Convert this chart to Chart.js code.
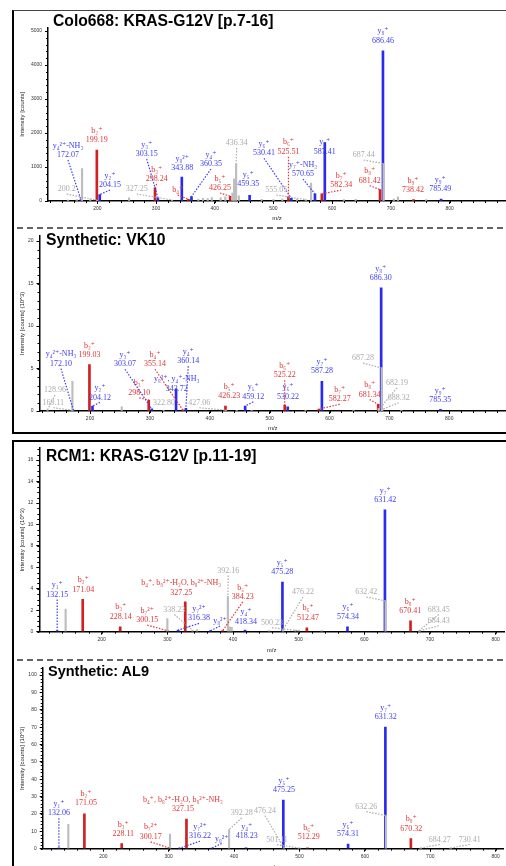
<!DOCTYPE html>
<html>
<head>
<meta charset="utf-8">
<script src="https://cdn.jsdelivr.net/npm/chart.js@4.4.1/dist/chart.umd.min.js"></script>
<style>
body{margin:0;width:506px;height:866px;overflow:hidden;background:#fff;position:relative;font-family:"Liberation Sans",Arial,sans-serif}
canvas,.title,.box,svg{position:absolute}
.title{font-weight:bold;line-height:1;white-space:nowrap;color:#000}
</style>
</head>
<body>
<div class="box" style="left:12px;top:10px;width:520px;height:421px;border-left:2px solid #000;border-top:1px solid #444;border-bottom:2px solid #000"></div>
<div class="box" style="left:12px;top:440px;width:520px;height:500px;border-left:2px solid #000;border-top:2px solid #000"></div>
<svg style="left:0;top:0" width="506" height="866">
  <line x1="17" y1="228" x2="506" y2="228" stroke="#333" stroke-width="1.5" stroke-dasharray="6 4"/>
  <line x1="17" y1="660" x2="506" y2="660" stroke="#333" stroke-width="1.5" stroke-dasharray="6 4"/>
</svg>

<canvas id="c1" width="506" height="214" style="left:0;top:12px"></canvas>
<canvas id="c2" width="506" height="202" style="left:0;top:230px"></canvas>
<canvas id="c3" width="506" height="216" style="left:0;top:442px"></canvas>
<canvas id="c4" width="506" height="213" style="left:0;top:662px"></canvas>

<div class="title" style="left:53px;top:12.7px;font-size:15.7px">Colo668: KRAS-G12V [p.7-16]</div>
<div class="title" style="left:46px;top:231.7px;font-size:15.7px">Synthetic: VK10</div>
<div class="title" style="left:46px;top:448.4px;font-size:15.6px">RCM1: KRAS-G12V [p.11-19]</div>
<div class="title" style="left:48px;top:664.4px;font-size:14.5px">Synthetic: AL9</div>

<script>
// tick labels
const mzTicks = [200, 300, 400, 500, 600, 700, 800];
const coloYTicks = [0, 1000, 2000, 3000, 4000, 5000];
const vkYTicks = [0, 5, 10, 15, 20];
const rcmYTicks = [0, 2, 4, 6, 8, 10, 12, 14, 16];
const alYTicks = [0, 10, 20, 30, 40, 50, 60, 70, 80, 90, 100];

// Colo668 patient sample, KRAS-G12V p.7-16
const coloGrayMz  = [150, 165, 174, 188, 200.2, 254, 327.25, 372, 380, 388, 395, 410, 418, 430, 433, 436.34, 441, 480, 500, 515, 540, 555.05, 564, 620, 640, 687.44, 705, 712, 760];
const coloGrayInt = [30, 40, 950, 40, 20, 90, 30, 60, 80, 70, 100, 90, 120, 230, 650, 1100, 150, 50, 40, 60, 60, 40, 530, 40, 50, 1100, 60, 120, 40];
const coloRedMz   = [199.19, 298.24, 355.2, 426.25, 525.51, 582.34, 681.42, 738.42];
const coloRedInt  = [1500, 390, 50, 140, 120, 210, 335, 40];
const coloBlueMz  = [172.07, 204.15, 303.15, 343.88, 360.35, 459.35, 530.41, 570.65, 587.41, 686.46, 785.49];
const coloBlueInt = [40, 190, 100, 700, 130, 170, 80, 210, 1720, 4420, 60];

// synthetic VK10
const vkGrayMz  = [128.96, 169.11, 170.6, 253, 322.8, 427.06, 445, 470, 560, 640, 682.19, 687.28, 688.32, 720];
const vkGrayInt = [0.15, 0.1, 3.5, 0.5, 0.1, 0.1, 0.08, 0.1, 0.12, 0.1, 0.3, 5.07, 0.2, 0.12];
const vkRedMz   = [199.03, 298.10, 355.14, 426.23, 525.22, 582.27, 681.34];
const vkRedInt  = [5.45, 1.29, 0.1, 0.58, 0.7, 0.23, 0.78];
const vkBlueMz  = [172.10, 204.12, 303.07, 343.72, 360.14, 459.12, 530.22, 587.28, 686.30, 785.35];
const vkBlueInt = [0.1, 0.58, 0.26, 2.57, 0.3, 0.58, 0.5, 3.5, 14.5, 0.2];

// RCM1 patient sample, KRAS-G12V p.11-19
const rcmGrayMz  = [145, 300, 338.23, 345, 392.16, 395, 398, 455, 476.22, 495, 500.23, 535, 632.42, 683.45, 684.43];
const rcmGrayInt = [2.1, 1.23, 0.15, 0.2, 3.3, 0.46, 0.4, 0.1, 0.2, 0.15, 0.15, 0.1, 2.87, 0.1, 0.1];
const rcmRedMz   = [171.04, 228.14, 300.15, 327.25, 384.23, 512.47, 670.41];
const rcmRedInt  = [3.03, 0.46, 0.1, 2.78, 0.1, 0.35, 1.02];
const rcmBlueMz  = [132.15, 316.38, 365.7, 418.34, 475.28, 574.34, 631.42];
const rcmBlueInt = [0.1, 0.15, 0.1, 0.15, 4.63, 0.46, 11.36];

// synthetic AL9
const alGrayMz  = [146.5, 302, 392.28, 476.24, 501.11, 632.26, 684.27, 730.41];
const alGrayInt = [14, 8.4, 11, 0.5, 0.3, 19.1, 0.3, 0.3];
const alRedMz   = [171.05, 228.11, 300.17, 327.15, 512.29, 670.32];
const alRedInt  = [20.1, 3.0, 0.5, 17.1, 0.5, 5.9];
const alBlueMz  = [132.06, 316.22, 365.7, 418.23, 475.25, 574.31, 631.32];
const alBlueInt = [0.5, 0.3, 0.3, 0.5, 28, 2.6, 70.1];

// where each peak label sits (data units) and where its leader ends
const coloNotes = [
  {t:['y₄²⁺-NH₃','172.07'], c:'b', at:[150,1353], to:[172.07,40]},
  {t:['b₂⁺','199.19'], c:'r', at:[199.19,1794]},
  {t:['y₂⁺','204.15'], c:'b', at:[221.6,471], to:[204.15,190]},
  {t:['200.2'], c:'g', at:[147.8,353], to:[200.2,20]},
  {t:['y₃⁺','303.15'], c:'b', at:[284.1,1382], to:[303.15,100]},
  {t:['b₃⁺','298.24'], c:'r', at:[301.1,647], to:[298.24,390]},
  {t:['327.25'], c:'g', at:[267.1,353], to:[327.25,30]},
  {t:['y₈²⁺','343.88'], c:'b', at:[344.7,971]},
  {t:['y₄⁺','360.35'], c:'b', at:[393.6,1088], to:[360.35,130]},
  {t:['b₄⁺'], c:'r', at:[336.9,323], to:[355.2,50]},
  {t:['b₅⁺','426.25'], c:'r', at:[408.9,382], to:[426.25,140]},
  {t:['436.34'], c:'g', at:[437.4,1706], to:[436.34,1100]},
  {t:['y₅⁺','459.35'], c:'b', at:[457.1,491]},
  {t:['y₆⁺','530.41'], c:'b', at:[483.8,1403], to:[530.41,80]},
  {t:['b₆⁺','525.51'], c:'r', at:[525.51,1450], to:[525.51,120]},
  {t:['y₇⁺-NH₃','570.65'], c:'b', at:[550.3,794], to:[570.65,210]},
  {t:['555.05'], c:'g', at:[504.8,323], to:[555.05,40]},
  {t:['y₇⁺','587.41'], c:'b', at:[587.41,1450]},
  {t:['b₇⁺','582.34'], c:'r', at:[615.5,471], to:[582.34,210]},
  {t:['687.44'], c:'g', at:[653.6,1353], to:[687.44,1100]},
  {t:['b₈⁺','681.42'], c:'r', at:[663.9,597], to:[681.42,335]},
  {t:['y₈⁺','686.46'], c:'b', at:[686.46,4714]},
  {t:['b₉⁺','738.42'], c:'r', at:[737.6,323]},
  {t:['y₉⁺','785.49'], c:'b', at:[784.1,344]}
];
const vkNotes = [
  {t:['y₄²⁺-NH₃','172.10'], c:'b', at:[151.5,5.58], to:[172.10,0.1]},
  {t:['b₂⁺','199.03'], c:'r', at:[199.03,6.55]},
  {t:['y₂⁺','204.12'], c:'b', at:[216.6,1.6], to:[204.12,0.58]},
  {t:['128.96'], c:'g', at:[141.5,2.46], to:[128.96,0.15]},
  {t:['169.11'], c:'g', at:[138.6,0.97], to:[169.11,0.1]},
  {t:['y₃⁺','303.07'], c:'b', at:[258.4,5.5], to:[303.07,0.26]},
  {t:['b₃⁺','298.10'], c:'r', at:[282.3,2.14], to:[298.10,1.29]},
  {t:['322.80'], c:'g', at:[323.6,0.97]},
  {t:['b₄⁺','355.14'], c:'r', at:[308.5,5.5], to:[355.14,0.1]},
  {t:['y₄⁺','360.14'], c:'b', at:[364.1,5.85], to:[360.14,0.3]},
  {t:['y₈²⁺, y₄⁺-NH₃','343.72'], c:'b', at:[344.8,2.65]},
  {t:['427.06'], c:'g', at:[382.5,0.97], to:[427.06,0.1]},
  {t:['b₅⁺','426.23'], c:'r', at:[432.6,1.75]},
  {t:['y₅⁺','459.12'], c:'b', at:[472.7,1.67], to:[459.12,0.58]},
  {t:['b₆⁺','525.22'], c:'r', at:[525.22,4.21], to:[525.22,0.7]},
  {t:['y₆⁺','530.22'], c:'b', at:[530.7,1.67]},
  {t:['y₇⁺','587.28'], c:'b', at:[587.5,4.68]},
  {t:['b₇⁺','582.27'], c:'r', at:[617.0,1.37], to:[582.27,0.23]},
  {t:['687.28'], c:'g', at:[656.0,6.23], to:[687.28,5.07]},
  {t:['b₈⁺','681.34'], c:'r', at:[667.1,1.95], to:[681.34,0.78]},
  {t:['682.19'], c:'g', at:[712.7,3.31], to:[684,0.3]},
  {t:['688.32'], c:'g', at:[715.6,1.56], to:[688.32,0.2]},
  {t:['y₈⁺','686.30'], c:'b', at:[685.5,15.64]},
  {t:['y₉⁺','785.35'], c:'b', at:[785.0,1.29]}
];
const rcmNotes = [
  {t:['y₁⁺','132.15'], c:'b', at:[132.15,3.46], to:[132.15,0.1]},
  {t:['b₂⁺','171.04'], c:'r', at:[171.9,3.93]},
  {t:['b₃⁺','228.14'], c:'r', at:[228.9,1.39]},
  {t:['b₇²⁺','300.15'], c:'r', at:[269.4,1.08], to:[300.15,0.1]},
  {t:['338.23'], c:'g', at:[310.6,2.07], to:[338.23,0.15]},
  {t:['b₄⁺, b₈²⁺-H₂O, b₈²⁺-NH₃','327.25'], c:'r', at:[321,3.65]},
  {t:['y₇²⁺','316.38'], c:'b', at:[348.2,1.24], to:[316.38,0.15]},
  {t:['y₈²⁺'], c:'b', at:[380.2,0.99], to:[365.7,0.1]},
  {t:['392.16'], c:'g', at:[392.8,5.71], to:[392.16,3.3]},
  {t:['b₅⁺','384.23'], c:'r', at:[414.8,3.24], to:[384.23,0.1]},
  {t:['y₄⁺','418.34'], c:'b', at:[419.8,0.93]},
  {t:['476.22'], c:'g', at:[506.6,3.7], to:[476.22,0.2]},
  {t:['500.23'], c:'g', at:[459.4,0.83], to:[500.23,0.1]},
  {t:['y₅⁺','475.28'], c:'b', at:[475.1,5.56]},
  {t:['b₆⁺','512.47'], c:'r', at:[514.3,1.3]},
  {t:['y₆⁺','574.34'], c:'b', at:[575.2,1.39]},
  {t:['632.42'], c:'g', at:[603.1,3.7], to:[632.42,2.87]},
  {t:['y₇⁺','631.42'], c:'b', at:[632.0,12.26]},
  {t:['b₈⁺','670.41'], c:'r', at:[670.1,1.92]},
  {t:['683.45'], c:'g', at:[713.4,2.07], to:[683.45,0.1]},
  {t:['684.43'], c:'g', at:[713.4,1.02], to:[684.43,0.1]}
];
const alNotes = [
  {t:['y₁⁺','132.06'], c:'b', at:[132.06,20.4], to:[132.06,0.5]},
  {t:['b₂⁺','171.05'], c:'r', at:[173.5,26.3]},
  {t:['b₃⁺','228.11'], c:'r', at:[230.5,8.3]},
  {t:['b₇²⁺','300.17'], c:'r', at:[272.4,6.8], to:[300.17,0.5]},
  {t:['b₄⁺, b₈²⁺-H₂O, b₈²⁺-NH₃','327.15'], c:'r', at:[321.8,22.9]},
  {t:['y₇²⁺','316.22'], c:'b', at:[347.8,7.2], to:[316.22,0.3]},
  {t:['y₈²⁺'], c:'b', at:[381,5.9], to:[365.7,0.3]},
  {t:['392.28'], c:'g', at:[411.6,20.6], to:[392.28,11]},
  {t:['y₄⁺','418.23'], c:'b', at:[419.2,7.2]},
  {t:['476.24'], c:'g', at:[447.2,21.9], to:[476.24,0.5]},
  {t:['501.11'], c:'g', at:[465.6,5.2], to:[501.11,0.3]},
  {t:['y₅⁺','475.25'], c:'b', at:[476.3,33.8]},
  {t:['b₆⁺','512.29'], c:'r', at:[514.0,6.6]},
  {t:['y₆⁺','574.31'], c:'b', at:[574.1,8.3]},
  {t:['632.26'], c:'g', at:[602.1,24.2], to:[632.26,19.1]},
  {t:['y₇⁺','631.32'], c:'b', at:[631.8,75.8]},
  {t:['b₈⁺','670.32'], c:'r', at:[670.9,11.6]},
  {t:['684.27'], c:'g', at:[714.4,5.3], to:[684.27,0.3]},
  {t:['730.41'], c:'g', at:[760.2,5.3], to:[730.41,0.3]}
];

Chart.defaults.font.family = '"Liberation Sans", Arial, sans-serif';

const BAR = { g: '#bdbdbd', r: '#d21f1f', b: '#2a2af0' };
const INK = { g: '#ababab', r: '#e03636', b: '#3c3cf2' };

// ion labels with dotted leaders, placed through the chart scales
const stickLabels = {
  id: 'stickLabels',
  afterDatasetsDraw(chart, args, opts) {
    const { ctx, scales: { x, y } } = chart;
    ctx.save();
    ctx.font = '8px "Liberation Serif", "DejaVu Serif", serif';
    ctx.textAlign = 'center';
    ctx.textBaseline = 'middle';
    ctx.lineWidth = 1.2;
    opts.notes.forEach(n => {
      const px = x.getPixelForValue(n.at[0]);
      const py = y.getPixelForValue(n.at[1]);
      ctx.strokeStyle = INK[n.c];
      ctx.fillStyle = INK[n.c];
      if (n.to) {
        ctx.setLineDash([1.5, 1.5]);
        ctx.beginPath();
        ctx.moveTo(px, py + 5);
        ctx.lineTo(x.getPixelForValue(n.to[0]), y.getPixelForValue(n.to[1]));
        ctx.stroke();
      }
      n.t.forEach((s, i) => ctx.fillText(s, px, py - (n.t.length - 1 - i) * 9.5));
    });
    ctx.restore();
  }
};

// small unlabelled ticks between the major ones
const minorTicks = {
  id: 'minorTicks',
  afterDraw(chart, args, o) {
    const { ctx, chartArea: a, scales: { x, y } } = chart;
    ctx.save();
    ctx.strokeStyle = '#000';
    ctx.lineWidth = 1;
    ctx.beginPath();
    for (let v = Math.ceil(x.min / o.x) * o.x; v <= x.max; v += o.x) {
      const px = Math.round(x.getPixelForValue(v)) + 0.5;
      ctx.moveTo(px, a.bottom); ctx.lineTo(px, a.bottom + 2);
    }
    for (let v = 0; v <= y.max + 1e-9; v += o.y) {
      const py = Math.round(y.getPixelForValue(v)) + 0.5;
      ctx.moveTo(a.left - 2, py); ctx.lineTo(a.left, py);
    }
    ctx.stroke();
    ctx.restore();
  }
};

function sticks(mz, val, key, w) {
  return {
    data: mz.map((m, i) => ({ x: m, y: val[i] })),
    backgroundColor: BAR[key],
    borderWidth: 0,
    barThickness: w,
    grouped: false
  };
}

function spectrum(id, p) {
  return new Chart(document.getElementById(id), {
    type: 'bar',
    data: {
      datasets: [
        sticks(p.gray[0], p.gray[1], 'g', 1.5),
        sticks(p.red[0], p.red[1], 'r', 2),
        sticks(p.blue[0], p.blue[1], 'b', 2)
      ]
    },
    options: {
      responsive: false,
      animation: false,
      layout: { padding: p.pad },
      plugins: {
        legend: { display: false },
        tooltip: { enabled: false },
        stickLabels: { notes: p.notes },
        minorTicks: { x: 20, y: p.yMinor }
      },
      scales: {
        x: {
          type: 'linear', min: p.xr[0], max: p.xr[1], offset: false,
          afterBuildTicks: s => { s.ticks = mzTicks.map(v => ({ value: v })); },
          afterFit: s => { s.height = p.xh; },
          ticks: { autoSkip: false, maxRotation: 0, font: { size: 5 }, color: '#333', padding: 2, callback: v => v },
          grid: { drawOnChartArea: false, offset: false, tickLength: 3, color: '#000' },
          border: { color: '#000', width: 1.5 },
          title: { display: true, text: 'm/z', font: { size: 6 }, color: '#222', padding: { top: 0, bottom: p.tb } }
        },
        y: {
          min: 0, max: p.yMax,
          afterBuildTicks: s => { s.ticks = p.yTicks.map(v => ({ value: v })); },
          afterFit: s => { s.width = p.yw; },
          ticks: { autoSkip: false, font: { size: 5 }, color: '#333', padding: 3, callback: v => v },
          grid: { drawOnChartArea: false, tickLength: 3, color: '#000' },
          border: { color: '#000', width: 1.5 },
          title: { display: true, text: p.yTitle, font: { size: 6 }, color: '#222', padding: { top: 4, bottom: 0 } }
        }
      }
    },
    plugins: [stickLabels, minorTicks]
  });
}

spectrum('c1', {
  gray: [coloGrayMz, coloGrayInt], red: [coloRedMz, coloRedInt], blue: [coloBlueMz, coloBlueInt],
  notes: coloNotes, xr: [116, 896], yMax: 5100, yTicks: coloYTicks, yMinor: 200,
  pad: { left: 15, top: 15.6, right: 0, bottom: 0 }, yw: 33, xh: 25, tb: 4.4,
  yTitle: 'Intensity [counts]'
});
spectrum('c2', {
  gray: [vkGrayMz, vkGrayInt], red: [vkRedMz, vkRedInt], blue: [vkBlueMz, vkBlueInt],
  notes: vkNotes, xr: [115.6, 894.8], yMax: 20.6, yTicks: vkYTicks, yMinor: 1,
  pad: { left: 15, top: 5, right: 0, bottom: 0 }, yw: 24.5, xh: 21, tb: 0.4,
  yTitle: 'Intensity [counts] (10^3)'
});
spectrum('c3', {
  gray: [rcmGrayMz, rcmGrayInt], red: [rcmRedMz, rcmRedInt], blue: [rcmBlueMz, rcmBlueInt],
  notes: rcmNotes, xr: [104.9, 812.8], yMax: 17.13, yTicks: rcmYTicks, yMinor: 0.5,
  pad: { left: 15, top: 4.7, right: 2, bottom: 0 }, yw: 24.3, xh: 26.3, tb: 4.4,
  yTitle: 'Intensity [counts] (10^3)'
});
spectrum('c4', {
  gray: [alGrayMz, alGrayInt], red: [alRedMz, alRedInt], blue: [alBlueMz, alBlueInt],
  notes: alNotes, xr: [107.3, 811.2], yMax: 104.1, yTicks: alYTicks, yMinor: 2,
  pad: { left: 15, top: 3, right: 3, bottom: 0 }, yw: 27.7, xh: 26.3, tb: 4.4,
  yTitle: 'Intensity [counts] (10^3)'
});
</script>
</body>
</html>
